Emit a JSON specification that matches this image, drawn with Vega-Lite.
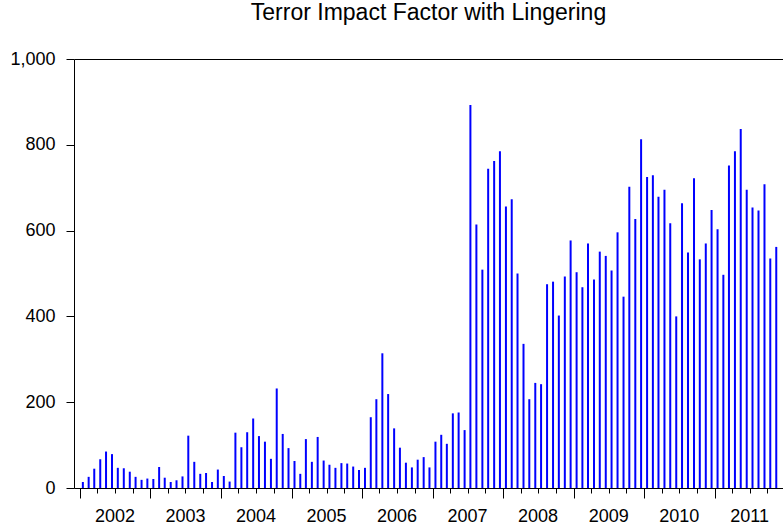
{
  "$schema": "https://vega.github.io/schema/vega-lite/v6.json",
  "width": 709,
  "height": 429,
  "autosize": "none",
  "padding": {"left": 74, "top": 59, "right": 0, "bottom": 41},
  "background": "white",
  "config": {
    "view": {"stroke": null},
    "font": "Liberation Sans",
    "axis": {"domainColor": "black", "tickColor": "black", "labelColor": "black", "grid": false, "labelFont": "Liberation Sans", "labelFontSize": 18, "title": null, "domainWidth": 1, "tickWidth": 1}
  },
  "title": {
    "text": "Terror Impact Factor with Lingering",
    "fontSize": 23,
    "fontWeight": "normal",
    "font": "Liberation Sans",
    "color": "black",
    "anchor": "middle",
    "baseline": "alphabetic",
    "offset": 7
  },
  "data": {
    "values": [
      {"date": "2002-01-16", "value": 14}, {"date": "2002-02-15", "value": 26}, {"date": "2002-03-16", "value": 45}, {"date": "2002-04-16", "value": 67}, {"date": "2002-05-16", "value": 85}, {"date": "2002-06-16", "value": 79}, {"date": "2002-07-16", "value": 47}, {"date": "2002-08-16", "value": 46}, {"date": "2002-09-16", "value": 38}, {"date": "2002-10-16", "value": 26}, {"date": "2002-11-16", "value": 19}, {"date": "2002-12-16", "value": 22},
      {"date": "2003-01-16", "value": 21}, {"date": "2003-02-15", "value": 49}, {"date": "2003-03-16", "value": 24}, {"date": "2003-04-16", "value": 14}, {"date": "2003-05-16", "value": 18}, {"date": "2003-06-16", "value": 27}, {"date": "2003-07-16", "value": 122}, {"date": "2003-08-16", "value": 61}, {"date": "2003-09-16", "value": 33}, {"date": "2003-10-16", "value": 35}, {"date": "2003-11-16", "value": 14}, {"date": "2003-12-16", "value": 43},
      {"date": "2004-01-16", "value": 28}, {"date": "2004-02-15", "value": 15}, {"date": "2004-03-16", "value": 129}, {"date": "2004-04-16", "value": 95}, {"date": "2004-05-16", "value": 130}, {"date": "2004-06-16", "value": 162}, {"date": "2004-07-16", "value": 121}, {"date": "2004-08-16", "value": 108}, {"date": "2004-09-16", "value": 68}, {"date": "2004-10-16", "value": 232}, {"date": "2004-11-16", "value": 126}, {"date": "2004-12-16", "value": 93},
      {"date": "2005-01-16", "value": 63}, {"date": "2005-02-15", "value": 33}, {"date": "2005-03-16", "value": 114}, {"date": "2005-04-16", "value": 61}, {"date": "2005-05-16", "value": 119}, {"date": "2005-06-16", "value": 64}, {"date": "2005-07-16", "value": 54}, {"date": "2005-08-16", "value": 47}, {"date": "2005-09-16", "value": 58}, {"date": "2005-10-16", "value": 57}, {"date": "2005-11-16", "value": 50}, {"date": "2005-12-16", "value": 42},
      {"date": "2006-01-16", "value": 47}, {"date": "2006-02-15", "value": 165}, {"date": "2006-03-16", "value": 207}, {"date": "2006-04-16", "value": 314}, {"date": "2006-05-16", "value": 219}, {"date": "2006-06-16", "value": 139}, {"date": "2006-07-16", "value": 94}, {"date": "2006-08-16", "value": 59}, {"date": "2006-09-16", "value": 48}, {"date": "2006-10-16", "value": 66}, {"date": "2006-11-16", "value": 72}, {"date": "2006-12-16", "value": 48},
      {"date": "2007-01-16", "value": 108}, {"date": "2007-02-15", "value": 124}, {"date": "2007-03-16", "value": 103}, {"date": "2007-04-16", "value": 174}, {"date": "2007-05-16", "value": 176}, {"date": "2007-06-16", "value": 135}, {"date": "2007-07-16", "value": 893}, {"date": "2007-08-16", "value": 614}, {"date": "2007-09-16", "value": 509}, {"date": "2007-10-16", "value": 744}, {"date": "2007-11-16", "value": 762}, {"date": "2007-12-16", "value": 785},
      {"date": "2008-01-16", "value": 656}, {"date": "2008-02-15", "value": 673}, {"date": "2008-03-16", "value": 500}, {"date": "2008-04-16", "value": 336}, {"date": "2008-05-16", "value": 207}, {"date": "2008-06-16", "value": 245}, {"date": "2008-07-16", "value": 242}, {"date": "2008-08-16", "value": 475}, {"date": "2008-09-16", "value": 481}, {"date": "2008-10-16", "value": 402}, {"date": "2008-11-16", "value": 493}, {"date": "2008-12-16", "value": 577},
      {"date": "2009-01-16", "value": 503}, {"date": "2009-02-15", "value": 468}, {"date": "2009-03-16", "value": 570}, {"date": "2009-04-16", "value": 486}, {"date": "2009-05-16", "value": 551}, {"date": "2009-06-16", "value": 541}, {"date": "2009-07-16", "value": 507}, {"date": "2009-08-16", "value": 596}, {"date": "2009-09-16", "value": 446}, {"date": "2009-10-16", "value": 702}, {"date": "2009-11-16", "value": 627}, {"date": "2009-12-16", "value": 813},
      {"date": "2010-01-16", "value": 725}, {"date": "2010-02-15", "value": 729}, {"date": "2010-03-16", "value": 679}, {"date": "2010-04-16", "value": 695}, {"date": "2010-05-16", "value": 617}, {"date": "2010-06-16", "value": 400}, {"date": "2010-07-16", "value": 664}, {"date": "2010-08-16", "value": 549}, {"date": "2010-09-16", "value": 722}, {"date": "2010-10-16", "value": 533}, {"date": "2010-11-16", "value": 570}, {"date": "2010-12-16", "value": 648},
      {"date": "2011-01-16", "value": 603}, {"date": "2011-02-15", "value": 497}, {"date": "2011-03-16", "value": 752}, {"date": "2011-04-16", "value": 785}, {"date": "2011-05-16", "value": 837}, {"date": "2011-06-16", "value": 695}, {"date": "2011-07-16", "value": 654}, {"date": "2011-08-16", "value": 647}, {"date": "2011-09-16", "value": 708}, {"date": "2011-10-16", "value": 535}, {"date": "2011-11-16", "value": 562}
    ]
  },
  "layer": [
    {
      "mark": {"type": "bar", "width": 2, "color": "#0000ff"},
      "encoding": {
        "x": {
          "field": "date", "type": "temporal",
          "scale": {"type": "utc", "domain": [{"year": 2001, "month": 12, "date": 27, "utc": true}, {"year": 2011, "month": 11, "date": 25, "utc": true}]},
          "axis": {"orient": "bottom", "labels": false, "tickSize": 5, "tickCount": {"interval": "month", "step": 3}, "domain": true, "title": null}
        },
        "y": {
          "field": "value", "type": "quantitative",
          "scale": {"domain": [0, 1000], "nice": false},
          "axis": {"values": [0, 200, 400, 600, 800, 1000], "format": ",.0f", "tickSize": 8, "labelPadding": 11, "title": null, "labelFontSize": 18}
        }
      }
    },
    {
      "mark": {"type": "tick", "opacity": 0},
      "encoding": {
        "x": {
          "field": "date", "type": "temporal",
          "scale": {"type": "utc", "domain": [{"year": 2001, "month": 12, "date": 27, "utc": true}, {"year": 2011, "month": 11, "date": 25, "utc": true}]},
          "axis": {"orient": "bottom", "domain": false, "tickSize": 10, "tickCount": {"interval": "year", "step": 1}, "format": "%Y", "labelOffset": 34.5, "labelAlign": "center", "labelBaseline": "alphabetic", "labelPadding": 23, "labelOverlap": false, "labelFlush": false, "labelBound": false, "title": null}
        }
      }
    },
    {
      "mark": {"type": "tick", "opacity": 0},
      "encoding": {
        "x": {
          "field": "date", "type": "temporal",
          "scale": {"type": "utc", "domain": [{"year": 2001, "month": 12, "date": 27, "utc": true}, {"year": 2011, "month": 11, "date": 25, "utc": true}]},
          "axis": {"orient": "top", "domain": true, "ticks": false, "labels": false, "title": null}
        }
      }
    }
  ],
  "resolve": {"axis": {"x": "independent"}}
}
